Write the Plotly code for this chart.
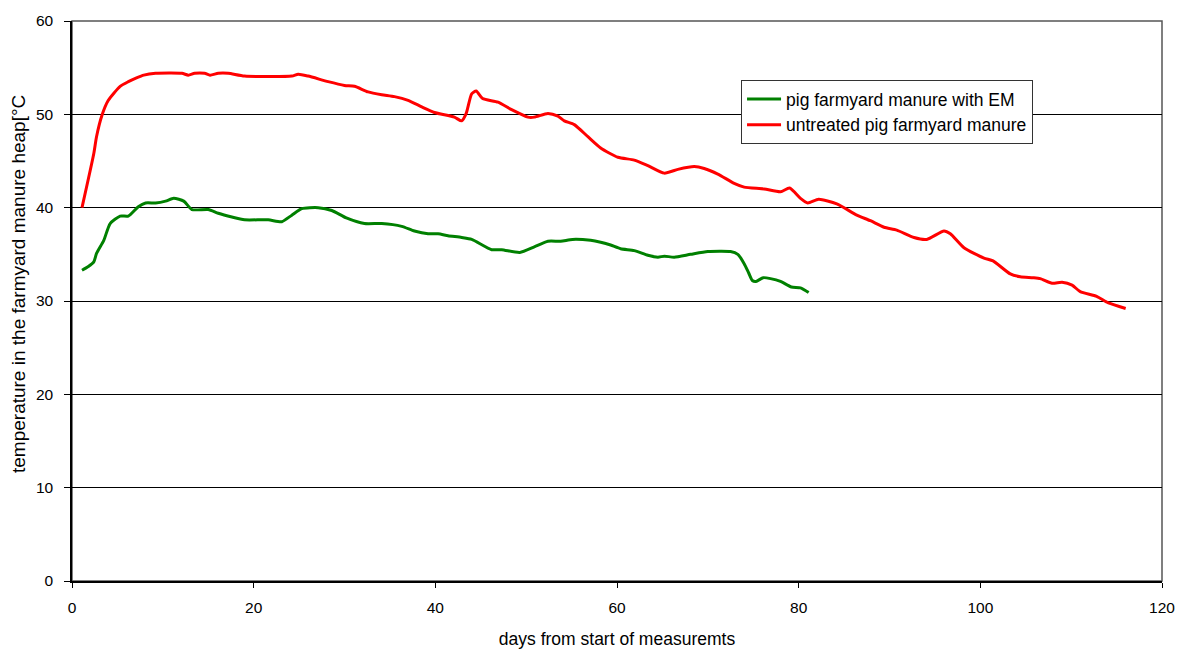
import plotly.graph_objects as go

# green: pig farmyard manure with EM
em_days = [1.1, 1.8, 2.4, 2.7, 3.5, 4.2, 5.3, 6.2, 7.3, 8.1, 9.2, 10.3, 11.2, 12.3, 13.2, 15.0,
           16.1, 17.6, 19.0, 21.6, 23.1, 24.2, 25.3, 27.1, 28.6, 30.2, 32.2, 34.1, 36.3, 37.7,
           39.2, 40.3, 41.4, 42.9, 44.0, 46.2, 47.3, 49.3, 50.9, 52.4, 53.8, 55.1, 57.1, 58.2,
           59.3, 60.4, 61.9, 63.4, 64.5, 65.2, 66.3, 68.1, 70.0, 72.5, 73.3, 74.0, 74.5, 74.9,
           75.3, 76.1, 76.9, 78.0, 79.2, 80.2, 81.1]
em_temp = [33.3, 33.7, 34.2, 35.1, 36.5, 38.3, 39.1, 39.1, 40.1, 40.5, 40.5, 40.7, 41.0, 40.7,
           39.8, 39.8, 39.4, 39.0, 38.7, 38.7, 38.5, 39.2, 39.9, 40.0, 39.7, 38.9, 38.3, 38.3,
           38.0, 37.5, 37.2, 37.2, 37.0, 36.8, 36.6, 35.5, 35.5, 35.2, 35.8, 36.4, 36.4, 36.6,
           36.5, 36.3, 36.0, 35.6, 35.4, 34.9, 34.7, 34.8, 34.7, 35.0, 35.3, 35.3, 35.0, 34.0,
           33.0, 32.2, 32.1, 32.5, 32.4, 32.1, 31.5, 31.4, 30.9]

# red: untreated pig farmyard manure
un_days = [1.1, 2.4, 2.7, 3.3, 4.0, 5.3, 6.2, 7.1, 7.9, 9.2, 12.1, 12.8, 13.5, 14.6, 15.2, 16.1,
           17.2, 19.0, 24.2, 24.9, 26.0, 28.2, 30.0, 31.1, 32.6, 34.1, 35.5, 37.0, 38.5, 39.9,
           42.1, 42.9, 43.4, 44.0, 44.5, 45.2, 46.9, 48.4, 50.2, 50.9, 52.4, 53.5, 54.2, 55.3,
           56.8, 58.2, 60.1, 61.9, 63.4, 65.2, 66.7, 68.5, 69.6, 71.1, 72.9, 74.0, 76.2, 78.0,
           79.0, 80.2, 81.0, 82.2, 84.2, 86.4, 87.9, 89.4, 90.8, 92.7, 94.1, 96.0, 96.7, 98.2,
           100.4, 101.4, 103.3, 104.4, 105.8, 106.6, 107.9, 109.0, 110.1, 111.0, 112.8, 114.1,
           116.0]
un_temp = [40.0, 45.8, 47.6, 49.9, 51.5, 53.0, 53.5, 53.9, 54.2, 54.4, 54.4, 54.2, 54.4, 54.4,
           54.2, 54.4, 54.4, 54.1, 54.1, 54.3, 54.1, 53.5, 53.1, 53.0, 52.4, 52.1, 51.9, 51.5,
           50.8, 50.2, 49.7, 49.3, 50.1, 52.2, 52.5, 51.7, 51.3, 50.5, 49.7, 49.7, 50.1, 49.8,
           49.3, 48.9, 47.6, 46.4, 45.4, 45.1, 44.5, 43.7, 44.1, 44.4, 44.2, 43.6, 42.6, 42.2,
           42.0, 41.7, 42.1, 41.0, 40.5, 40.9, 40.4, 39.2, 38.6, 37.9, 37.6, 36.8, 36.6, 37.5,
           37.2, 35.7, 34.6, 34.3, 32.9, 32.6, 32.5, 32.4, 31.9, 32.0, 31.7, 31.0, 30.5, 29.8,
           29.2]

x_ticks = [0, 20, 40, 60, 80, 100, 120]
y_ticks = [0, 10, 20, 30, 40, 50, 60]

FAM = "Liberation Sans, Arial, sans-serif"

fig = go.Figure()
fig.add_trace(go.Scatter(x=em_days, y=em_temp, mode="lines", name="pig farmyard manure with EM",
                         line=dict(color="#008000", width=3, shape="spline", smoothing=0.6)))
fig.add_trace(go.Scatter(x=un_days, y=un_temp, mode="lines", name="untreated pig farmyard manure",
                         line=dict(color="#FF0000", width=3, shape="spline", smoothing=0.6)))

fig.update_layout(
    width=1179, height=649,
    autosize=False,
    margin=dict(l=72, r=17, t=21, b=68, autoexpand=False),
    paper_bgcolor="white", plot_bgcolor="white",
    font=dict(family=FAM, size=15, color="black"),
    showlegend=True,
    legend=dict(x=0.6138, y=0.8946, xanchor="left", yanchor="top",
                bordercolor="#333333", borderwidth=1, bgcolor="white",
                font=dict(family=FAM, size=17.5, color="black"),
                tracegroupgap=0, itemwidth=34),
    shapes=[dict(type="rect", xref="paper", yref="paper", x0=0, x1=1, y0=0, y1=1,
                 line=dict(color="#555555", width=1.5), layer="below")],
    annotations=[dict(text="temperature in the farmyard manure heap[°C", textangle=-90,
                      xref="paper", yref="paper", x=(18 - 72) / 1090, y=(581 - 284) / 560,
                      xanchor="center", yanchor="middle", showarrow=False,
                      font=dict(family=FAM, size=19, color="black"))],
    xaxis=dict(range=[0, 120], tickvals=x_ticks, ticktext=[str(v) for v in x_ticks],
               showgrid=False, zeroline=False, showline=True, linecolor="black", linewidth=1.5,
               ticks="outside", ticklen=5, tickcolor="black", automargin=False,
               ticklabelstandoff=7,
               title=dict(text="days from start of measuremts", standoff=20,
                          font=dict(family=FAM, size=17.5)),
               tickfont=dict(family=FAM, size=15.5)),
    yaxis=dict(range=[0, 60], tickvals=y_ticks, ticktext=[str(v) for v in y_ticks],
               showgrid=True, gridcolor="black", gridwidth=1, zeroline=False,
               showline=True, linecolor="black", linewidth=1.5,
               ticks="outside", ticklen=6, tickcolor="black", automargin=False,
               ticklabelstandoff=8,
               tickfont=dict(family=FAM, size=15.5)),
)

fig.write_html("out.html")
